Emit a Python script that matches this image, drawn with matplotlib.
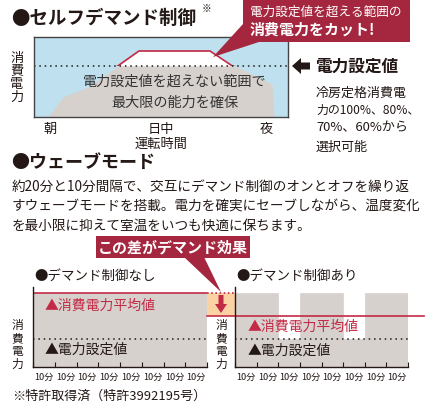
import matplotlib
matplotlib.use("Agg")
import numpy as np
import matplotlib.pyplot as plt
from matplotlib.patches import Polygon, Rectangle

plt.rcParams['font.family'] = ['Noto Sans CJK JP', 'DejaVu Sans']

# Self demand control curve (time 0-100, power 0-100)
self_t = [5.5, 11.4, 21.3, 41.3, 69.3, 78.0, 81.1, 93.7, 94.5]
self_p = [0, 25, 37.5, 82.5, 82.5, 64, 61, 41, 0]
self_setpoint = 64
self_ticks = [6.3, 50, 91.3]
self_ticklabels = ['朝', '日中', '夜']

# Wave mode, 10-minute slots (power 0-100)
slot_labels = ['10分'] * 8
no_ctrl_power = [92.5] * 8
wave_power = [92.5, 92.5, 35, 92.5, 92.5, 35, 92.5, 92.5]
wave_setpoint = 35
no_ctrl_avg = 92.5
wave_avg = 63.75

BLUE = '#bfe0ee'
GRAY = '#d7d1ce'
RED = '#c32a45'
CALLOUT = '#a5273f'
ORANGE = '#fbd2a3'
INK = '#231815'

W, H = 426, 405
fig = plt.figure(figsize=(W / 100, H / 100), dpi=100)


def px_axes(x0, y0, x1, y1):
    # box in pixels, y measured from the top
    return fig.add_axes([x0 / W, 1 - y1 / H, (x1 - x0) / W, (y1 - y0) / H])


# ---- top chart
ax = px_axes(34, 37, 288, 117)
ax.set_xlim(0, 100)
ax.set_ylim(0, 100)
ax.set_facecolor(BLUE)
ax.fill_between(self_t, 0, self_p, color=GRAY, lw=0)
above = [p > self_setpoint for p in self_p]
ax.fill_between(self_t, self_setpoint, self_p, where=above, interpolate=True,
                color='white', lw=0)
line, = ax.plot(self_t, self_p, color=RED, lw=1.2)
line.set_clip_path(Rectangle((0, self_setpoint), 100, 100, transform=ax.transData))
ax.axhline(self_setpoint, color=INK, ls=(0, (1, 2.5)), lw=1.1)
ax.set_xticks(self_ticks, self_ticklabels)
ax.set_yticks([])
ax.tick_params(length=0, pad=4, labelsize=9.5, labelcolor=INK)
for s in ax.spines.values():
    s.set_color('#444')
    s.set_linewidth(1)


# ---- wave mode charts
def wave_axes(x0, x1, power):
    a = px_axes(x0, 287, x1, 367)
    a.set_xlim(0, 80)
    a.set_ylim(0, 100)
    starts = np.arange(len(power)) * 10
    a.bar(starts, power, width=10, align='edge', color=GRAY, edgecolor=GRAY, lw=0.5)
    a.plot([0, 80], [wave_setpoint] * 2, color=INK, ls=(0, (1, 2.5)), lw=1.1)
    a.spines[['top', 'right']].set_visible(False)
    for s in ('left', 'bottom'):
        a.spines[s].set_color(INK)
        a.spines[s].set_linewidth(1)
    a.set_yticks([])
    a.set_xticks(np.arange(0, 81, 10), [''] * 9)
    a.set_xticks(starts + 5, slot_labels, minor=True)
    a.tick_params(which='major', direction='in', length=3.5, color=INK)
    a.tick_params(which='minor', length=0, pad=4, labelsize=6.6, labelcolor=INK)
    return a


axl = wave_axes(33, 207, no_ctrl_power)
axl.plot([0, 80], [no_ctrl_avg] * 2, color=RED, lw=1.2)

axr = wave_axes(235, 408, wave_power)
gap = -28 / 173 * 80
axr.fill_between([gap, 0], wave_avg, no_ctrl_avg, color=ORANGE, lw=0, clip_on=False)
axr.plot([gap, 0], [no_ctrl_avg] * 2, color=RED, ls=(0, (1, 1.5)), lw=1.2, clip_on=False)
axr.plot([gap, 87.4], [wave_avg] * 2, color=RED, lw=1.2, clip_on=False)

# ---- overlay for texts and callouts
cv = fig.add_axes([0, 0, 1, 1])
cv.set_xlim(0, W)
cv.set_ylim(H, 0)
cv.axis('off')

cv.text(11, 18, '●セルフデマンド制御', fontsize=13.3, weight='bold', va='center', color=INK)
cv.text(202, 9, '※', fontsize=7, va='center', color=INK)

cv.add_patch(Rectangle((243, -1), 167, 43, color=CALLOUT, lw=0))
cv.add_patch(Polygon([(243, 24), (259, 42), (213, 57)], closed=True, color=CALLOUT, lw=0))
cv.text(250, 12, '電力設定値を超える範囲の', fontsize=9.1, va='center', color='white')
cv.text(250, 30, '消費電力をカット!', fontsize=10.8, weight='bold', va='center', color='white')

cv.text(17, 78, '消\n費\n電\n力', fontsize=9.5, ha='center', va='center',
        linespacing=1.0, color=INK)
cv.text(161, 144, '運転時間', fontsize=9.5, ha='center', va='center', color=INK)
cv.text(175, 82, '電力設定値を超えない範囲で', fontsize=10.2, ha='center', va='center', color='#333')
cv.text(175, 103, '最大限の能力を確保', fontsize=10.2, ha='center', va='center', color='#333')

cv.add_patch(Polygon([(292, 66), (301, 58), (301, 62.5), (310, 62.5), (310, 69.5),
                      (301, 69.5), (301, 74)], closed=True, color=INK, lw=0))
cv.text(315, 67, '電力設定値', fontsize=12, weight='bold', va='center', color=INK)
for y, t, fs in zip([93, 110, 128, 147],
                    ['冷房定格消費電', '力の100%、80%、', '70%、60%から', '選択可能'],
                    [9.4, 8.6, 9.4, 9.4]):
    cv.text(316, y, t, fontsize=fs, va='center', color=INK)

cv.text(11, 162, '●ウェーブモード', fontsize=13, weight='bold', va='center', color=INK)
para = ['約20分と10分間隔で、交互にデマンド制御のオンとオフを繰り返',
        'すウェーブモードを搭載。電力を確実にセーブしながら、温度変化',
        'を最小限に抑えて室温をいつも快適に保ちます。']
for y, t in zip([187, 206.5, 226], para):
    cv.text(12, y, t, fontsize=9.8, va='center', color=INK)

cv.add_patch(Rectangle((96, 236), 154, 22, color=CALLOUT, lw=0))
cv.add_patch(Polygon([(184, 257), (204, 257), (221, 292)], closed=True, color=CALLOUT, lw=0))
cv.text(173, 247, 'この差がデマンド効果', fontsize=10.8, weight='bold', ha='center',
        va='center', color='white')

cv.text(34, 276, '●デマンド制御なし', fontsize=9.7, va='center', color=INK)
cv.text(236, 276, '●デマンド制御あり', fontsize=9.7, va='center', color=INK)

cv.add_patch(Polygon([(218.5, 295), (223.5, 295), (223.5, 304), (227, 304), (221, 313),
                      (215, 304), (218.5, 304)], closed=True, color=RED, lw=0))

for x in (17, 221):
    cv.text(x, 345, '消\n費\n電\n力', fontsize=8.5, ha='center', va='center',
            linespacing=1.0, color=INK)

cv.text(45, 306, '▲消費電力平均値', fontsize=10, va='center', color=RED)
cv.text(45, 350, '▲電力設定値', fontsize=10, va='center', color=INK)
cv.text(248, 327, '▲消費電力平均値', fontsize=10, va='center', color=RED)
cv.text(248, 351, '▲電力設定値', fontsize=10, va='center', color=INK)

cv.text(12, 396, '※特許取得済（特許3992195号）', fontsize=9.4, va='center', color=INK)

fig.savefig('out.png', dpi=100)
